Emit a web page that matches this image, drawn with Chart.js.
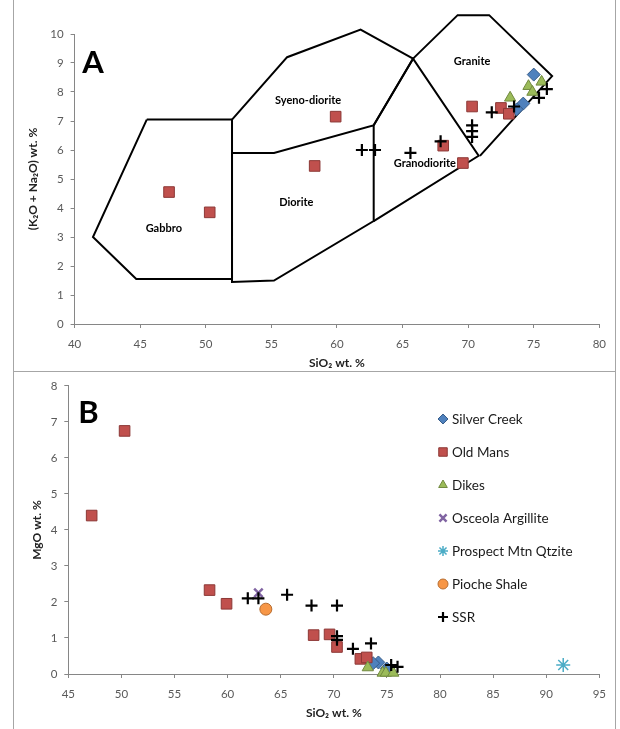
<!DOCTYPE html>
<html><head><meta charset="utf-8">
<script src="https://cdn.jsdelivr.net/npm/chart.js@4.4.0/dist/chart.umd.min.js"></script>
<style>
html,body{margin:0;padding:0;background:#fff;}
#wrap{position:relative;width:620px;height:729px;overflow:hidden;background:#fff;}
#c1{position:absolute;left:14px;top:0;}
#c2{position:absolute;left:14px;top:372px;}
.vl{position:absolute;top:0;width:1px;height:729px;background:#a6a6a6;}
.hl{position:absolute;left:13px;width:603px;height:1px;top:371px;background:#a6a6a6;}
</style></head><body>
<div id="wrap">
<div class="vl" style="left:13px"></div><div class="vl" style="left:615px"></div><div class="hl"></div>
<canvas id="c1" width="601" height="371"></canvas>
<canvas id="c2" width="601" height="357"></canvas>
</div>
<script>
const FONT = "Lato, 'Noto Sans', 'DejaVu Sans', sans-serif";

// ---------- data ----------
const seriesNames = ['Silver Creek','Old Mans','Dikes','Osceola Argillite','Prospect Mtn Qtzite','Pioche Shale','SSR'];

const silverX = [75.0, 74.2, 73.7];
const silverAlk = [8.6, 7.6, 7.4];
const silverMgO = [0.15, 0.32, 0.3];

const oldMansX = [47.2, 50.3, 58.3, 59.9, 68.1, 69.6, 70.3, 72.5, 73.1];
const oldMansAlk = [4.55, 3.85, 5.45, 7.15, 6.15, 5.55, 7.5, 7.45, 7.25];
const oldMansMgO = [4.4, 6.75, 2.33, 1.95, 1.08, 1.1, 0.75, 0.42, 0.46];

const dikesX = [73.2, 74.6, 74.9, 75.6];
const dikesAlk = [7.8, 8.2, 8.0, 8.35];
const dikesMgO = [0.18, 0.03, 0.03, 0.03];

const osceolaX = [62.9];
const osceolaMgO = [2.25];

const prospectX = [91.6];
const prospectMgO = [0.25];

const piocheX = [63.6];
const piocheMgO = [1.8];

const ssrX = [61.9, 62.9, 65.6, 67.9, 70.3, 70.3, 70.3, 71.8, 73.5, 75.4, 76.0];
const ssrAlk = [6.0, 6.0, 5.9, 6.3, 6.85, 6.65, 6.45, 7.3, 7.5, 7.8, 8.1];
const ssrMgO = [2.1, 2.1, 2.2, 1.9, 1.9, 1.05, 0.95, 0.7, 0.85, 0.25, 0.2];

// TAS field boundaries (SiO2, K2O+Na2O)
const gabbroField = [[45.5,7.05],[52.0,7.05],[52.0,1.55],[44.7,1.55],[41.4,3.0],[45.5,7.05]];
const dioriteField = [[52.0,5.9],[55.2,5.9],[62.8,6.85],[62.8,3.55],[55.2,1.5],[52.0,1.45],[52.0,5.9]];
const syenoField = [[52.0,7.05],[56.2,9.2],[61.8,10.15],[65.8,9.15],[62.8,6.85]];
const granodioriteField = [[62.8,6.85],[65.8,9.15],[70.8,5.8],[62.8,3.55]];
const graniteField = [[65.8,9.15],[69.2,10.65],[71.6,10.65],[76.4,8.55],[70.9,5.8]];

const fieldLabels = [
  {text:'Gabbro', x:46.8, y:3.3},
  {text:'Diorite', x:56.9, y:4.2},
  {text:'Syeno-diorite', x:57.8, y:7.7},
  {text:'Granodiorite', x:66.7, y:5.55},
  {text:'Granite', x:70.3, y:9.05}
];

const xTicksA = {min:40, max:80, step:5};
const yTicksA = {min:0, max:10, step:1};
const xTicksB = {min:45, max:95, step:5};
const yTicksB = {min:0, max:8, step:1};

// ---------- styles ----------
const styles = [
  {pointStyle:'rectRot', bg:'#4F81BD', bd:'#385D8A', bw:1, r:6.5, lr:5},
  {pointStyle:'rect', bg:'#C0504D', bd:'#8C3836', bw:1, r:7.5, lr:6},
  {pointStyle:'triangle', bg:'#9BBB59', bd:'#71893F', bw:1, r:6.5, lr:5},
  {pointStyle:'crossRot', bg:'#8064A2', bd:'#8064A2', bw:2.5, r:6, lr:5},
  {pointStyle:'star', bg:'#4BACC6', bd:'#4BACC6', bw:1.5, r:7, lr:5},
  {pointStyle:'circle', bg:'#F79646', bd:'#B66D31', bw:1, r:6, lr:5},
  {pointStyle:'cross', bg:'#000', bd:'#000', bw:2.2, r:6, lr:5}
];

function pts(xs, ys){ return xs.map((x,i)=>({x:x, y:ys[i]})); }
function markerSet(idx, data){
  const s = styles[idx];
  return {label:seriesNames[idx], data:data, showLine:false, clip:false,
    pointStyle:s.pointStyle, pointRadius:s.r, pointBackgroundColor:s.bg, pointBorderColor:s.bd,
    pointBorderWidth:s.bw, backgroundColor:s.bg, borderColor:s.bd, borderWidth:s.bw,
    order: 10 - idx, legendIdx: idx};
}
function fieldSet(v){
  return {label:'field', data:v.map(p=>({x:p[0], y:p[1]})), showLine:true, clip:false,
    borderColor:'#000', borderWidth:2, pointRadius:0, fill:false, tension:0, order:20};
}

const textPlugin = {
  id:'textPlugin',
  afterDatasetsDraw(chart, args, opts){
    const ctx = chart.ctx, xs = chart.scales.x, ys = chart.scales.y;
    ctx.save();
    ctx.textAlign = 'center'; ctx.textBaseline = 'middle'; ctx.fillStyle = '#000';
    (opts.labels || []).forEach(l=>{
      ctx.font = 'bold 11px ' + FONT;
      ctx.fillText(l.text, xs.getPixelForValue(l.x), ys.getPixelForValue(l.y));
    });
    if (opts.panel){
      ctx.font = 'bold 31px ' + FONT;
      ctx.fillText(opts.panel.text, xs.getPixelForValue(opts.panel.x), ys.getPixelForValue(opts.panel.y));
    }
    if (opts.legend){
      const L = opts.legend;
      chart.data.datasets.filter(d=>d.legendIdx !== undefined).forEach((d,i)=>{
        const s = styles[d.legendIdx];
        const y = L.y0 + i*L.dy;
        ctx.fillStyle = s.bg; ctx.strokeStyle = s.bd; ctx.lineWidth = s.bw;
        Chart.helpers.drawPoint(ctx, {pointStyle:s.pointStyle, radius:s.lr, borderWidth:s.bw, rotation:0}, L.x0, y);
        ctx.fillStyle = '#1a1a1a'; ctx.textAlign = 'left'; ctx.font = '13.5px ' + FONT;
        ctx.fillText(d.label, L.x0 + 9, y + 1);
      });
    }
    ctx.restore();
  }
};

function axes(xt, yt, yW, xH, yTitle, yTitlePad, xTitlePad){
  const tickFont = {family:FONT, size:11.5};
  const titleFont = {family:FONT, size:12, weight:'bold'};
  const grid = {display:true, drawOnChartArea:false, drawTicks:true, tickLength:4, color:'#868686'};
  return {
    x:{type:'linear', min:xt.min, max:xt.max,
      ticks:{stepSize:xt.step, color:'#595959', font:tickFont, padding:9, maxRotation:0},
      grid:grid, border:{display:true, color:'#868686'},
      title:{display:true, text:'SiO₂ wt. %', color:'#222', font:titleFont, padding:{top:0, bottom:xTitlePad}},
      afterFit(s){ s.height = xH; }},
    y:{type:'linear', min:yt.min, max:yt.max,
      ticks:{stepSize:yt.step, color:'#595959', font:tickFont, padding:7},
      grid:grid, border:{display:true, color:'#868686'},
      title:{display:true, text:yTitle, color:'#222', font:titleFont, padding:{top:yTitlePad, bottom:0}},
      afterFit(s){ s.width = yW; }}
  };
}

// ---------- Chart A ----------
new Chart(document.getElementById('c1'), {
  type:'scatter',
  data:{datasets:[
    fieldSet(gabbroField), fieldSet(dioriteField), fieldSet(syenoField), fieldSet(granodioriteField), fieldSet(graniteField),
    markerSet(0, pts(silverX, silverAlk)),
    markerSet(1, pts(oldMansX, oldMansAlk)),
    markerSet(2, pts(dikesX, dikesAlk)),
    markerSet(6, pts(ssrX, ssrAlk))
  ]},
  options:{
    responsive:false, animation:false, events:[],
    layout:{padding:{left:0, right:15, top:34, bottom:0}},
    scales: axes(xTicksA, yTicksA, 60.6, 47, '(K₂O + Na₂O) wt. %', 12, 1),
    plugins:{legend:{display:false}, tooltip:{enabled:false},
      textPlugin:{labels:fieldLabels, panel:{text:'A', x:41.4, y:9.0}}}
  },
  plugins:[textPlugin]
});

// ---------- Chart B ----------
new Chart(document.getElementById('c2'), {
  type:'scatter',
  data:{datasets:[
    markerSet(0, pts(silverX, silverMgO)),
    markerSet(1, pts(oldMansX, oldMansMgO)),
    markerSet(2, pts(dikesX, dikesMgO)),
    markerSet(3, pts(osceolaX, osceolaMgO)),
    markerSet(4, pts(prospectX, prospectMgO)),
    markerSet(5, pts(piocheX, piocheMgO)),
    markerSet(6, pts(ssrX, ssrMgO))
  ]},
  options:{
    responsive:false, animation:false, events:[],
    layout:{padding:{left:0, right:13.3, top:12, bottom:0}},
    scales: axes(xTicksB, yTicksB, 54.3, 55, 'MgO wt. %', 15.5, 8.5),
    plugins:{legend:{display:false}, tooltip:{enabled:false},
      textPlugin:{panel:{text:'B', x:46.9, y:7.24}, legend:{x0:429, y0:47, dy:33}}}
  },
  plugins:[textPlugin]
});
</script>
</body></html>
